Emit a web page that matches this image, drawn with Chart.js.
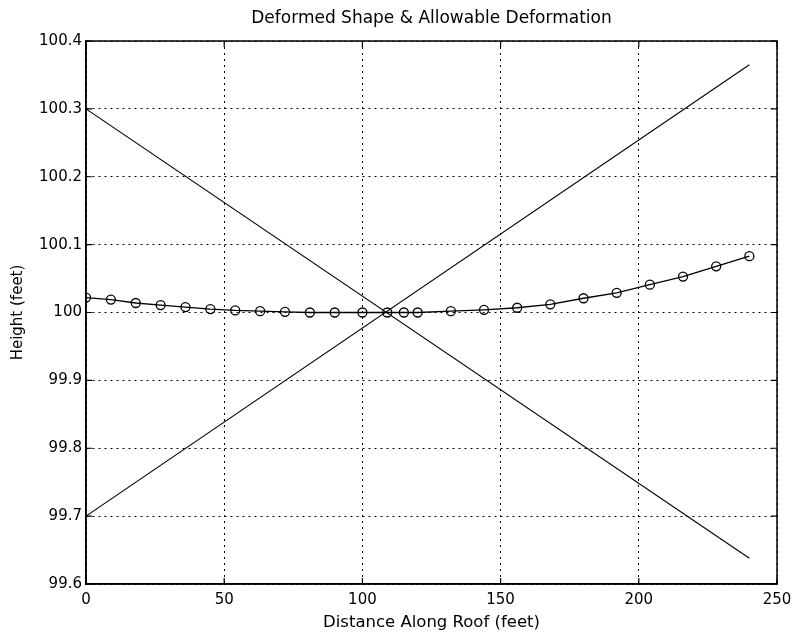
<!DOCTYPE html>
<html>
<head>
<meta charset="utf-8">
<title>Deformed Shape & Allowable Deformation</title>
<script src="https://cdn.jsdelivr.net/npm/chart.js@4/dist/chart.umd.min.js"></script>
<style>
  html, body { margin: 0; padding: 0; background: #fff; }
  #wrap { width: 794px; height: 633px; }
</style>
</head>
<body>
<div id="wrap"><canvas id="chart" width="794" height="633"></canvas></div>
<script>
// --- data ---
const distance = [0, 9, 18, 27, 36, 45, 54, 63, 72, 81, 90, 100, 109, 115, 120,
  132, 144, 156, 168, 180, 192, 204, 216, 228, 240];
const height = [100.022, 100.019, 100.014, 100.011, 100.008, 100.005, 100.003,
  100.002, 100.001, 100.0, 100.0, 100.0, 100.0, 100.0, 100.0,
  100.002, 100.004, 100.007, 100.012, 100.021, 100.029, 100.041, 100.053,
  100.068, 100.083];

// allowable deformation limits (straight lines)
const limitX = [0, 240];
const limitDown = [100.3, 99.638];
const limitUp = [99.7, 100.365];

const xTicks = [0, 50, 100, 150, 200, 250];
const yTicks = [99.6, 99.7, 99.8, 99.9, 100, 100.1, 100.2, 100.3, 100.4];

const FONT = 'DejaVu Sans';
const pts = (xs, ys) => xs.map((x, i) => ({ x, y: ys[i] }));

// white background + solid box + inward ticks (matlab style)
const framePlugin = {
  id: 'frame',
  beforeDraw(chart) {
    const { ctx } = chart;
    ctx.save();
    ctx.fillStyle = '#fff';
    ctx.fillRect(0, 0, chart.width, chart.height);
    ctx.restore();
  },
  afterDatasetsDraw(chart) {
    const { ctx, chartArea: a, scales } = chart;
    ctx.save();
    ctx.strokeStyle = '#000';
    ctx.lineWidth = 1.5;
    ctx.strokeRect(a.left, a.top, a.right - a.left, a.bottom - a.top);
    ctx.lineWidth = 1.2;
    const len = 6;
    ctx.beginPath();
    scales.x.ticks.forEach((t) => {
      const px = scales.x.getPixelForValue(t.value);
      ctx.moveTo(px, a.bottom); ctx.lineTo(px, a.bottom - len);
      ctx.moveTo(px, a.top); ctx.lineTo(px, a.top + len);
    });
    scales.y.ticks.forEach((t) => {
      const py = scales.y.getPixelForValue(t.value);
      ctx.moveTo(a.left, py); ctx.lineTo(a.left + len, py);
      ctx.moveTo(a.right, py); ctx.lineTo(a.right - len, py);
    });
    ctx.stroke();
    ctx.restore();
  },
};

new Chart(document.getElementById('chart'), {
  type: 'scatter',
  data: {
    datasets: [
      {
        label: 'Deformed shape',
        data: pts(distance, height),
        showLine: true,
        borderColor: '#000',
        borderWidth: 1.3,
        pointRadius: 4.5,
        pointBorderWidth: 1.3,
        pointBorderColor: '#000',
        pointBackgroundColor: 'rgba(0,0,0,0)',
      },
      {
        label: 'Limit 1',
        data: pts(limitX, limitDown),
        showLine: true,
        borderColor: '#000',
        borderWidth: 1.1,
        pointRadius: 0,
      },
      {
        label: 'Limit 2',
        data: pts(limitX, limitUp),
        showLine: true,
        borderColor: '#000',
        borderWidth: 1.1,
        pointRadius: 0,
      },
    ],
  },
  options: {
    responsive: false,
    animation: false,
    layout: { padding: { left: 0, right: 17, top: 0, bottom: 0 } },
    plugins: {
      legend: { display: false },
      tooltip: { enabled: false },
      title: {
        display: true,
        fullSize: false,
        text: 'Deformed Shape & Allowable Deformation',
        color: '#000',
        font: { family: FONT, size: 17, weight: 'normal' },
        padding: { top: 8, bottom: 12.6 },
      },
    },
    scales: {
      x: {
        type: 'linear',
        min: 0,
        max: 250,
        afterBuildTicks: (s) => { s.ticks = xTicks.map((v) => ({ value: v })); },
        afterFit: (s) => { s.height = 49; s.paddingLeft = 0; s.paddingRight = 0; },
        grid: { color: '#000', lineWidth: 1, drawTicks: false },
        border: { display: true, color: '#000', width: 1.5, dash: [2, 4] },
        ticks: {
          color: '#000',
          padding: 7,
          maxRotation: 0,
          font: { family: FONT, size: 15 },
        },
        title: {
          display: true,
          text: 'Distance Along Roof (feet)',
          color: '#000',
          font: { family: FONT, size: 16.5 },
          padding: { top: -10, bottom: 0 },
        },
      },
      y: {
        type: 'linear',
        min: 99.6,
        max: 100.4,
        afterBuildTicks: (s) => { s.ticks = yTicks.map((v) => ({ value: v })); },
        afterFit: (s) => { s.width = 86; },
        grid: { color: '#000', lineWidth: 1, drawTicks: false },
        border: { display: true, color: '#000', width: 1.5, dash: [2, 4] },
        ticks: {
          color: '#000',
          padding: 4,
          font: { family: FONT, size: 15 },
          callback: (v) => String(Math.round(v * 10) / 10),
        },
        title: {
          display: true,
          text: 'Height (feet)',
          color: '#000',
          font: { family: FONT, size: 15 },
          padding: { top: 9, bottom: 0 },
        },
      },
    },
  },
  plugins: [framePlugin],
});
</script>
</body>
</html>
